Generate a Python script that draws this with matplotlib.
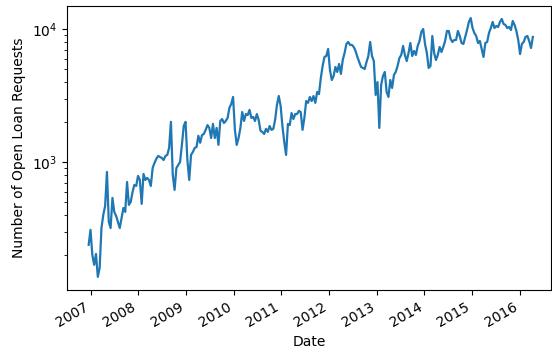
import matplotlib
matplotlib.use("Agg")
import matplotlib.dates as mdates
import matplotlib.pyplot as plt
import pandas as pd

# biweekly counts of open loan requests, Dec 2006 - Apr 2016
start_date = "2006-12-17"
open_requests = [
    240, 311, 202, 170, 205, 138, 161, 321, 403, 470,
    846, 357, 321, 540, 424, 396, 357, 321, 382, 454,
    424, 711, 479, 504, 598, 676, 664, 790, 736, 487,
    817, 736, 763, 736, 664, 906, 989, 1059, 1115, 1095,
    1077, 1040, 1115, 1135, 1280, 2010, 804, 620, 906, 955,
    1005, 1350, 1870, 2010, 1040, 736, 1135, 1195, 1280, 1300,
    1580, 1400, 1600, 1630, 1750, 1900, 1810, 1520, 1940, 1520,
    1810, 1350, 2040, 2110, 1970, 2040, 2150, 2560, 2740, 3090,
    1750, 1350, 1520, 1810, 2380, 2040, 2300, 2260, 2470, 2150,
    2190, 2040, 2300, 2080, 1720, 1690, 1630, 1780, 1690, 1870,
    1750, 1780, 2080, 2690, 3140, 2650, 1870, 1420, 1135, 1940,
    1900, 2340, 2110, 2300, 2300, 2430, 2380, 1750, 2150, 2880,
    2790, 3090, 2880, 3140, 2790, 3370, 3250, 4290, 5280, 6170,
    6270, 7080, 4930, 4140, 4440, 5190, 4760, 5460, 4600, 5850,
    6610, 7720, 7990, 7590, 7590, 7330, 6840, 6170, 5650, 5190,
    5100, 5010, 5650, 6270, 7990, 6270, 5750, 3200, 4000, 1810,
    3800, 4440, 4760, 3370, 3090, 4140, 3610, 4520, 4760, 5280,
    6060, 6380, 7460, 6380, 5750, 6610, 7850, 6270, 6840, 6380,
    7460, 8130, 9500, 10000, 7720, 6610, 5100, 5280, 8860, 6610,
    5850, 6380, 7330, 6720, 7330, 8130, 9660, 9660, 8410, 7990,
    8270, 8270, 9660, 8860, 7850, 7720, 8710, 9830, 11290, 12090,
    10170, 9330, 8860, 7850, 8130, 7080, 6170, 7850, 7990, 9330,
    10170, 11290, 10170, 10530, 10350, 11290, 11890, 10900, 10720, 10170,
    10350, 9830, 11480, 10720, 9660, 8270, 6490, 7720, 7990, 8710,
    8860, 8130, 7200, 8710,
]

dates = pd.date_range(start_date, periods=len(open_requests), freq="14D")
series = pd.Series(open_requests, index=dates)

fig = plt.figure(figsize=(5.52, 3.52), dpi=100)
ax = fig.add_axes([67 / 552, 62 / 352, 484 / 552, 284 / 352])

ax.plot(series.index, series.values, color="#1f77b4", linewidth=1.6)
ax.set_yscale("log")
ax.set_ylim(110, 14875)
ax.set_xlim(pd.Timestamp("2006-07-04"), pd.Timestamp("2016-08-27"))

ax.xaxis.set_major_locator(mdates.YearLocator())
ax.xaxis.set_major_formatter(mdates.DateFormatter("%Y"))
for label in ax.get_xticklabels():
    label.set_rotation(30)
    label.set_ha("right")

ax.set_xlabel("Date")
ax.set_ylabel("Number of Open Loan Requests")

fig.savefig("out.png", dpi=100)
